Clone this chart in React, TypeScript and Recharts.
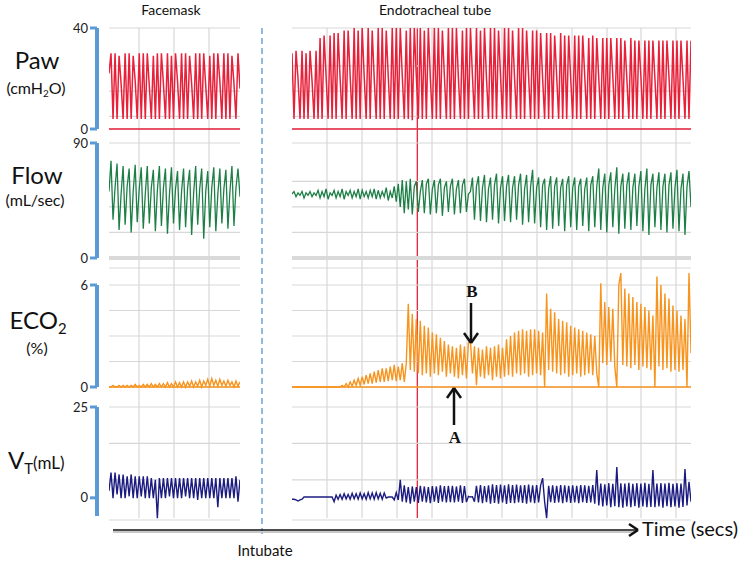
import React from 'react';
import { LineChart, Line, XAxis, YAxis, CartesianGrid, ReferenceLine } from 'recharts';

const FONT = 'Lato, "Open Sans", sans-serif';
const RED = '#e8213b';
const GREEN = '#1d7f46';
const ORANGE = '#f7941e';
const NAVY = '#1b1b80';
const BLUE = '#5b9bd5';
const GRID = '#d7d7d7';

// Paw (cmH2O) – facemask / endotracheal tube
const pawMask = [
  22, 30, 4, 30, 4, 29, 18, 4, 30, 4, 30, 4, 29, 19, 4, 30, 4, 30, 4, 30,
  17, 4, 29, 4, 30, 4, 30, 18, 4, 30, 4, 29, 4, 30, 19, 4, 30, 4, 30, 4,
  29, 18, 4, 30, 4, 30, 4, 30, 17, 4, 29, 4, 30, 4, 30, 19, 4, 30, 4, 30,
  4, 29, 18, 4, 30, 16,
];
const pawTube = [
  30, 4, 31, 20, 4, 31, 4, 30, 4, 31, 19, 4, 31, 4, 36, 4, 37, 21, 4, 37,
  4, 38, 4, 38, 20, 4, 39, 4, 39, 21, 4, 40, 4, 39, 4, 40, 21, 4, 40, 4,
  39, 20, 4, 40, 4, 40, 4, 39, 21, 4, 40, 4, 40, 4, 40, 21, 4, 39, 4, 40,
  3.5, 40, 21, 4, 40, 4, 39, 4, 40, 20, 4, 40, 4, 40, 4, 39, 21, 4, 40, 4,
  40, 4, 40, 20, 4, 39, 4, 40, 4, 40, 21, 4, 40, 4, 39, 4, 40, 20, 4, 40,
  4, 40, 4, 39, 21, 4, 40, 4, 40, 4, 39, 20, 4, 40, 4, 40, 4, 39, 21, 4,
  39, 4, 39, 4, 38, 20, 4, 38, 4, 38, 4, 37, 21, 4, 38, 4, 37, 4, 37, 20,
  4, 37, 4, 37, 4, 37, 21, 4, 36, 4, 37, 4, 36, 20, 4, 36, 4, 36, 4, 36,
  21, 4, 36, 4, 36, 4, 35, 20, 4, 36, 4, 35, 4, 35, 21, 4, 35, 4, 35, 4,
  35, 20, 4, 35, 4, 35, 4, 35, 21, 4, 35, 4, 35, 4, 35, 20, 4, 35, 4, 35,
];

// Flow (mL/sec)
const flowMask = [
  52, 76, 30, 55, 74, 22, 50, 72, 26, 56, 70, 20, 52, 73, 28, 54, 71, 23, 50, 72,
  27, 55, 69, 21, 53, 72, 25, 55, 70, 19, 50, 71, 27, 54, 68, 22, 52, 70, 24, 55,
  69, 18, 51, 72, 26, 54, 70, 15, 52, 68, 24, 55, 71, 21, 50, 70, 27, 54, 69, 23,
  52, 72, 25, 55, 70, 48,
];
const flowTube = [
  50, 52, 48, 51, 49, 52, 47, 51, 49, 52, 48, 51, 49, 53, 47, 52, 48, 54, 46, 51,
  49, 53, 47, 52, 48, 54, 46, 52, 49, 53, 47, 52, 48, 54, 46, 53, 48, 52, 47, 53,
  48, 54, 46, 53, 47, 52, 48, 55, 45, 52, 47, 56, 44, 58, 40, 61, 35, 60, 38, 62,
  34, 56, 60, 36, 52, 61, 35, 58, 62, 34, 54, 61, 35, 57, 62, 33, 55, 60, 36, 56,
  62, 34, 54, 61, 35, 57, 62, 36, 50, 52, 63, 30, 56, 64, 29, 55, 65, 28, 54, 63,
  30, 57, 66, 27, 55, 64, 29, 56, 65, 28, 55, 64, 30, 57, 66, 26, 54, 65, 28, 56,
  69, 27, 55, 63, 24, 57, 62, 22, 54, 64, 23, 56, 63, 25, 55, 62, 21, 57, 64, 24,
  55, 63, 22, 56, 62, 25, 54, 63, 21, 57, 64, 24, 56, 70, 22, 55, 66, 20, 57, 67,
  24, 54, 71, 19, 56, 66, 23, 57, 67, 22, 55, 66, 25, 56, 68, 21, 54, 70, 18, 57,
  66, 24, 55, 67, 22, 56, 66, 20, 57, 67, 23, 55, 69, 21, 54, 66, 18, 56, 68, 40,
];

// ECO2 (%)
const eco2Mask = [
  0, 0, 0.1, 0, 0, 0.1, 0, 0.1, 0, 0.1, 0, 0.1, 0, 0.15, 0, 0.1, 0, 0.15, 0, 0.15,
  0, 0.2, 0, 0.15, 0, 0.2, 0, 0.2, 0, 0.25, 0, 0.2, 0, 0.3, 0, 0.25, 0, 0.3, 0, 0.3,
  0.05, 0.35, 0, 0.3, 0.05, 0.4, 0, 0.35, 0.1, 0.45, 0.05, 0.5, 0.1, 0.4, 0.05, 0.45, 0.1, 0.35, 0.05, 0.4,
  0.1, 0.3, 0, 0.35, 0.05, 0.3,
];
const eco2Tube = [
  0, 0, 0, 0, 0, 0, 0, 0, 0, 0, 0, 0, 0, 0, 0, 0, 0, 0, 0, 0,
  0, 0, 0, 0, 0, 0.1, 0, 0.2, 0, 0.3, 0.05, 0.4, 0.1, 0.5, 0.1, 0.6, 0.15, 0.7, 0.2, 0.8,
  0.2, 0.9, 0.25, 1.0, 0.3, 1.1, 0.3, 1.1, 0.35, 1.2, 0.4, 1.3, 0.35, 1.2, 0.4, 1.4, 0.3, 1.4, 4.9, 1.0,
  4.3, 0.9, 4.0, 0.8, 3.9, 0.7, 3.6, 0.8, 3.5, 0.6, 3.2, 0.8, 3.1, 0.7, 2.9, 0.9, 2.7, 0.6, 2.5, 0.8,
  2.4, 0.6, 2.3, 0.5, 2.5, 0.7, 2.4, 0.5, 2.6, 2.7, 0.8, 2.4, 0.1, 2.3, 0.6, 2.2, 0.5, 2.4, 0.7, 2.3,
  0.4, 2.4, 0.6, 2.5, 0.5, 2.3, 0.6, 2.8, 0.7, 3.0, 0.6, 3.2, 0.8, 3.3, 0.7, 3.4, 0.8, 3.3, 0.6, 3.4,
  0.7, 3.4, 0.8, 3.3, 0.7, 3.2, 0, 5.5, 1.0, 4.6, 0.9, 4.4, 0.8, 4.0, 0.7, 3.9, 0.8, 3.8, 0.6, 3.6,
  0.7, 3.5, 0.8, 3.4, 0.6, 3.3, 0.7, 3.2, 0.8, 3.1, 0.7, 3.0, 0.8, 0, 6.1, 1.4, 5.0, 1.3, 4.7, 1.5,
  4.6, 1.2, 0, 6.0, 6.7, 1.3, 5.8, 1.2, 5.5, 1.1, 5.3, 1.3, 5.0, 1.0, 4.9, 1.2, 4.7, 1.1, 4.5, 1.0,
  4.2, 0, 6.5, 1.2, 6.0, 1.0, 5.5, 1.1, 5.2, 0.9, 4.8, 1.0, 4.5, 0.9, 4.2, 1.0, 4.0, 0, 6.7, 2.0,
];

// VT (mL)
const vtMask = [
  2, 7, 0, 7, 1, 6.5, 0, 6.5, 0, 6, 0.5, 6.5, 0, 6, 0, 6, 0.5, 6, 0, 6,
  0, 5.5, 0, 5, -5.5, 5.5, 0, 5.5, 0, 5.5, 0.5, 5.5, 0, 5.5, 0, 5.5, 0, 5.5, 0.5, 5.5,
  0, 5.5, 0, 5.5, -0.5, 5.5, 0, 5.5, 0, 5.5, 0, 5.5, 0, 5.5, -2.5, 5.5, 0, 5.5, 0, 5.5,
  0, 5.5, 0, 6, -1, 5,
];
const vtTube = [
  -0.3, -0.3, -0.5, -0.8, -0.5, -0.3, 0.3, 0.3, 0.3, 0.3, 0.3, 0.3, 0.3, 0.3, 0.3, 0.3, 0.3, 0.3, 0.3, 0.3,
  0.3, -1, 0.8, -0.3, 1, -0.3, 1.2, -0.2, 1, -0.3, 1.3, -0.2, 1.2, -0.3, 1.4, -0.2, 1.2, -0.3, 1.5, -0.2,
  1.4, -0.3, 1.5, -0.2, 1.3, -0.3, 1.4, 0, 0.3, 0.3, 0.3, -0.5, 1.5, -0.5, 5, -1, 3.5, -1.2, 3, -1.5,
  3.2, -1, 3, -1.3, 3.4, -1, 3.2, -1.2, 3, -1.4, 3.3, -1, 3.2, -1.3, 3.5, -1, 3.3, -1.2, 3.4, -1.1,
  3.4, -1.2, 3.2, -1, 3.5, -1.3, 3.3, -1.1, 0.5, 0.3, 0.4, -1, 3.4, -1.2, 3.6, -1.4, 3.3, -1.1, 3.5, -1.5,
  3.8, -1.3, 3.6, -1.5, 3.7, -1.2, 3.5, -1.6, 3.8, -1.3, 3.6, -1.4, 3.7, -1.2, 3.5, -1.3, 3.6, -1.5, 3.7, -1.2,
  3.5, -1.4, 3.6, -1.2, 3.5, 5.5, -1, -5.5, 3.4, -1.1, 3.5, -1.3, 3.4, -1.2, 3.6, -1.4, 3.5, -1.1, 3.4, -1.3,
  3.5, -1.2, 3.4, -1.4, 3.6, -1.1, 3.5, -1.3, 3.4, -1.2, 3.6, -1.5, 7.7, -2, 4, -2.3, 3.8, -2, 4.1, -2.5,
  3.9, -2.2, 8.5, -2.5, 4.1, -2.6, 4, -2.3, 4.2, -2.5, 3.9, -2.2, 4.1, -2.6, 4, -2.3, 4.2, -2.5, 3.9, -2.4,
  7.7, -2.5, 4, -2.3, 4.1, -2.6, 4, -2.2, 4.2, -2.5, 3.9, -2.3, 4.1, -2.6, 4, -2.4, 8, -2, 4.5, -1,
];

const INTUBATION_MARK = 62.5; // tube sample where the red marker sits

const toRows = (vals: number[]) => vals.map((v, t) => ({ t, v }));

const MASK = { left: 109, width: 131, grid: [30, 65, 100] };
const TUBE = { left: 292, width: 399, grid: [35, 70, 105, 140, 175, 210, 245, 280, 315, 349, 384] };
const GRID_TOP = 28;
const GRID_BOTTOM = 518;
const PAD = 4;

type Panel = {
  id: string;
  color: string;
  weight: number;
  mask: number[];
  tube: number[];
  domain: [number, number];
  yHi: number;
  yLo: number;
  gridTicks: number[];
  axisDomain: [number, number];
  axisTicks: number[];
  axisTop: number;
  axisBottom: number;
  zero?: { stroke: string; width: number };
};

const panels: Panel[] = [
  {
    id: 'paw', color: RED, weight: 1.5, mask: pawMask, tube: pawTube, domain: [0, 40], yHi: 28, yLo: 129,
    gridTicks: [0, 5, 10, 15, 20, 25, 30, 35, 40], axisDomain: [0, 40], axisTicks: [0, 40],
    axisTop: 28, axisBottom: 129, zero: { stroke: RED, width: 1.3 },
  },
  {
    id: 'flow', color: GREEN, weight: 1.3, mask: flowMask, tube: flowTube, domain: [0, 90], yHi: 143, yLo: 258,
    gridTicks: [0, 10, 20, 30, 40, 50, 60, 70, 80, 90], axisDomain: [0, 90], axisTicks: [0, 90],
    axisTop: 143, axisBottom: 258, zero: { stroke: '#d9d9d9', width: 4 },
  },
  {
    id: 'eco2', color: ORANGE, weight: 1.4, mask: eco2Mask, tube: eco2Tube, domain: [0, 7], yHi: 268, yLo: 387,
    gridTicks: [0, 1.5, 3, 4.5, 6], axisDomain: [0, 6], axisTicks: [0, 6],
    axisTop: 285, axisBottom: 387, zero: { stroke: ORANGE, width: 1.5 },
  },
  {
    id: 'vt', color: NAVY, weight: 1.4, mask: vtMask, tube: vtTube, domain: [-6, 25], yHi: 407, yLo: 520,
    gridTicks: [-5, 0, 5, 10, 15, 20, 25], axisDomain: [-5, 25], axisTicks: [0, 25],
    axisTop: 407, axisBottom: 516,
  },
];

function Trace({ p, seg, vals }: { p: Panel; seg: typeof MASK; vals: number[] }) {
  const h = p.yLo - p.yHi + PAD * 2;
  return (
    <LineChart
      width={seg.width}
      height={h}
      data={toRows(vals)}
      margin={{ top: PAD, right: 0, bottom: PAD, left: 0 }}
      style={{ position: 'absolute', left: seg.left, top: p.yHi - PAD }}
    >
      <CartesianGrid vertical={false} stroke={GRID} strokeWidth={1.2} />
      <XAxis type="number" dataKey="t" domain={['dataMin', 'dataMax']} hide />
      <YAxis type="number" domain={p.domain} ticks={p.gridTicks} hide />
      {p.zero && <ReferenceLine y={0} stroke={p.zero.stroke} strokeWidth={p.zero.width} />}
      <Line type="linear" dataKey="v" stroke={p.color} strokeWidth={p.weight} dot={false} isAnimationActive={false} />
    </LineChart>
  );
}

function Bracket({ p }: { p: Panel }) {
  const h = p.axisBottom - p.axisTop + 20;
  return (
    <LineChart
      width={104}
      height={h}
      data={[{ t: 0, v: p.axisDomain[0] }, { t: 1, v: p.axisDomain[1] }]}
      margin={{ top: 10, right: 7, bottom: 10, left: 0 }}
      style={{ position: 'absolute', left: 0, top: p.axisTop - 10 }}
    >
      <XAxis type="number" dataKey="t" hide />
      <YAxis
        type="number"
        domain={p.axisDomain}
        ticks={p.axisTicks}
        interval={0}
        width={97}
        axisLine={{ stroke: BLUE, strokeWidth: 4 }}
        tickLine={{ stroke: BLUE, strokeWidth: 3 }}
        tickSize={7}
        tickMargin={2}
        tick={{ fill: '#222', fontSize: 13, fontFamily: FONT }}
      />
      <Line dataKey="v" stroke="none" dot={false} isAnimationActive={false} />
    </LineChart>
  );
}

function Backdrop({ seg, n, marker }: { seg: typeof MASK; n: number; marker?: number }) {
  return (
    <LineChart
      width={seg.width}
      height={GRID_BOTTOM - GRID_TOP}
      data={[{ t: 0, v: 0 }, { t: n - 1, v: 1 }]}
      margin={{ top: 0, right: 0, bottom: 0, left: 0 }}
      style={{ position: 'absolute', left: seg.left, top: GRID_TOP }}
    >
      <CartesianGrid horizontal={false} verticalPoints={seg.grid} stroke={GRID} strokeWidth={1.2} />
      <XAxis type="number" dataKey="t" domain={[0, n - 1]} hide />
      <YAxis type="number" domain={[0, 1]} hide />
      {marker !== undefined && <ReferenceLine x={marker} stroke={RED} strokeWidth={1.3} />}
      <Line dataKey="v" stroke="none" dot={false} isAnimationActive={false} />
    </LineChart>
  );
}

function Txt({ x, y, size, children, center, style }: any) {
  const base: React.CSSProperties = {
    position: 'absolute',
    top: y - size * 0.53,
    fontSize: size,
    lineHeight: `${size}px`,
    fontFamily: FONT,
    color: '#111',
    whiteSpace: 'nowrap',
    ...style,
  };
  if (center) return <div style={{ ...base, left: x - 100, width: 200, textAlign: 'center' }}>{children}</div>;
  return <div style={{ ...base, left: x }}>{children}</div>;
}

const sub: React.CSSProperties = { fontSize: '0.62em', verticalAlign: '-0.35em', lineHeight: 0 };

const seg = (a: [number, number], b: [number, number]) => [{ x: a[0], y: a[1] }, { x: b[0], y: b[1] }];

export default function App() {
  return (
    <div style={{ position: 'absolute', left: 0, top: 0, width: 747, height: 561, background: '#fff', overflow: 'hidden' }}>
      <Backdrop seg={MASK} n={pawMask.length} />
      <Backdrop seg={TUBE} n={pawTube.length} marker={INTUBATION_MARK} />
      {panels.map((p) => (
        <React.Fragment key={p.id}>
          <Trace p={p} seg={MASK} vals={p.mask} />
          <Trace p={p} seg={TUBE} vals={p.tube} />
          <Bracket p={p} />
        </React.Fragment>
      ))}

      <LineChart
        width={747}
        height={561}
        data={[{ x: 0, y: 0 }, { x: 747, y: 561 }]}
        margin={{ top: 0, right: 0, bottom: 0, left: 0 }}
        style={{ position: 'absolute', left: 0, top: 0 }}
      >
        <XAxis type="number" dataKey="x" domain={[0, 747]} hide />
        <YAxis type="number" dataKey="y" domain={[0, 561]} reversed hide />
        <ReferenceLine segment={seg([262, 28], [262, 538])} stroke="#6fa3d8" strokeWidth={1.5} strokeDasharray="6 4" />
        <ReferenceLine segment={seg([113, 532], [636, 532])} stroke="#c8c8c8" strokeWidth={2} />
        <ReferenceLine segment={seg([113, 530], [636, 530])} stroke="#111" strokeWidth={1.5} />
        <ReferenceLine segment={seg([629, 524], [638, 530])} stroke="#111" strokeWidth={2.5} />
        <ReferenceLine segment={seg([629, 536], [638, 530])} stroke="#111" strokeWidth={2.5} />
        <ReferenceLine segment={seg([471, 303], [471, 341])} stroke="#111" strokeWidth={2.5} />
        <ReferenceLine segment={seg([464, 333], [471, 343])} stroke="#111" strokeWidth={2.5} />
        <ReferenceLine segment={seg([478, 333], [471, 343])} stroke="#111" strokeWidth={2.5} />
        <ReferenceLine segment={seg([454, 425], [454, 390])} stroke="#111" strokeWidth={2.5} />
        <ReferenceLine segment={seg([447, 398], [454, 388])} stroke="#111" strokeWidth={2.5} />
        <ReferenceLine segment={seg([461, 398], [454, 388])} stroke="#111" strokeWidth={2.5} />
        <Line dataKey="y" stroke="none" dot={false} isAnimationActive={false} />
      </LineChart>

      <Txt x={171} y={10} size={14} center>Facemask</Txt>
      <Txt x={435} y={10} size={14} center>Endotracheal tube</Txt>

      <Txt x={37} y={61} size={24} center>Paw</Txt>
      <Txt x={36} y={88} size={16} center>(cmH<span style={sub}>2</span>O)</Txt>
      <Txt x={37} y={176} size={24} center>Flow</Txt>
      <Txt x={35} y={200} size={16} center>(mL/sec)</Txt>
      <Txt x={38} y={321} size={24} center>ECO<span style={sub}>2</span></Txt>
      <Txt x={37} y={348} size={16} center>(%)</Txt>
      <Txt x={8} y={461} size={24}>V<span style={sub}>T</span><span style={{ fontSize: 17 }}>(mL)</span></Txt>

      <Txt x={265} y={551} size={15} center>Intubate</Txt>
      <Txt x={642} y={529} size={20}>Time (secs)</Txt>

      <Txt x={472} y={292} size={17} center style={{ fontFamily: '"Liberation Serif", serif', fontWeight: 700 }}>B</Txt>
      <Txt x={455} y={438} size={17} center style={{ fontFamily: '"Liberation Serif", serif', fontWeight: 700 }}>A</Txt>
    </div>
  );
}
